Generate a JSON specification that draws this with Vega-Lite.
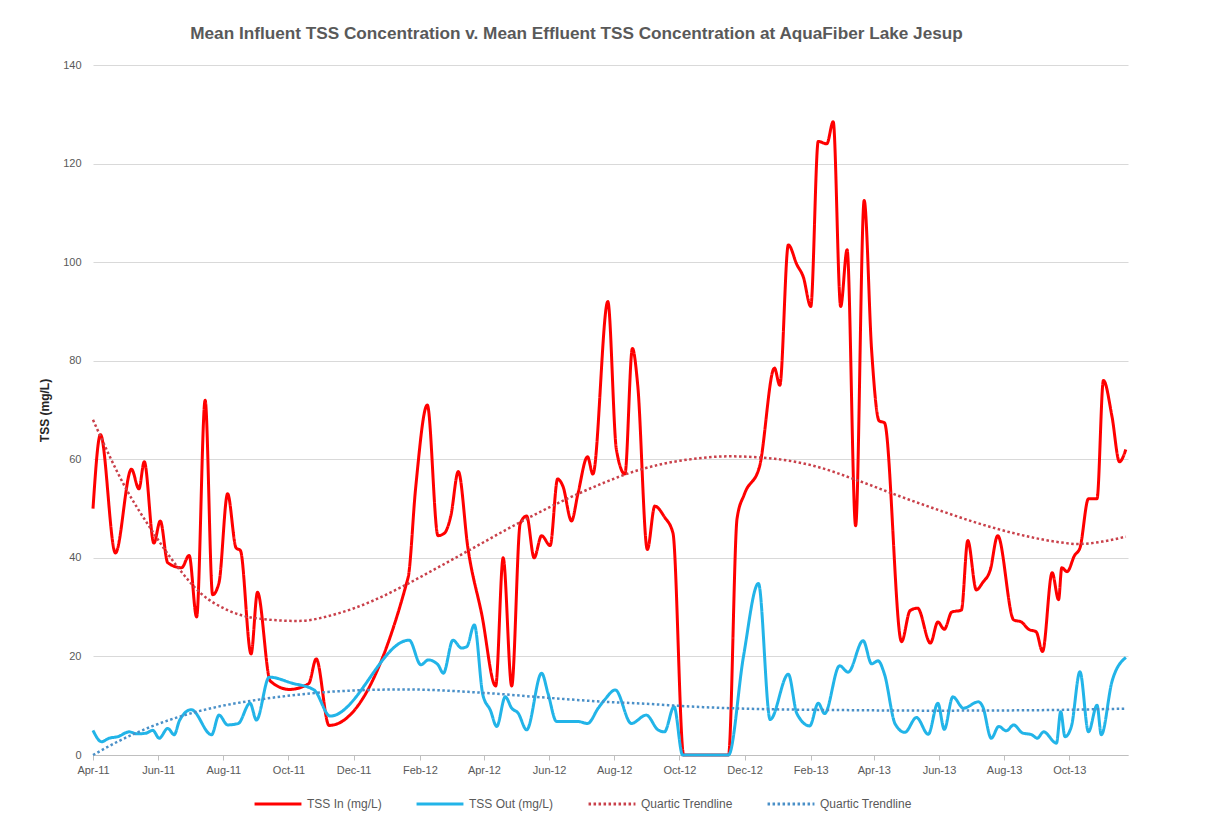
{
  "$schema": "https://vega.github.io/schema/vega-lite/v6.json",
  "width": 1035,
  "height": 690,
  "autosize": {"type": "none"},
  "padding": {"left": 93, "top": 65, "right": 80, "bottom": 68},
  "background": "white",
  "config": {"view": {"stroke": null}, "font": "Liberation Sans"},
  "title": {"text": "Mean Influent TSS Concentration v. Mean Effluent TSS Concentration at AquaFiber Lake Jesup", "fontSize": 17.2, "font": "Liberation Sans", "fontWeight": "bold", "color": "#595959", "anchor": "middle", "offset": 17, "dx": -34},
  "data": {
    "format": {"parse": {"d": "date:'%Y-%m-%d'"}},
    "values": [
      {"d": "2011-04-01", "v": 50, "s": "TSS In (mg/L)"},
      {"d": "2011-04-08", "v": 65, "s": "TSS In (mg/L)"},
      {"d": "2011-04-22", "v": 41, "s": "TSS In (mg/L)"},
      {"d": "2011-05-07", "v": 58, "s": "TSS In (mg/L)"},
      {"d": "2011-05-14", "v": 54, "s": "TSS In (mg/L)"},
      {"d": "2011-05-19", "v": 59.5, "s": "TSS In (mg/L)"},
      {"d": "2011-05-28", "v": 43, "s": "TSS In (mg/L)"},
      {"d": "2011-06-03", "v": 47.5, "s": "TSS In (mg/L)"},
      {"d": "2011-06-10", "v": 39, "s": "TSS In (mg/L)"},
      {"d": "2011-06-23", "v": 38, "s": "TSS In (mg/L)"},
      {"d": "2011-06-30", "v": 40.5, "s": "TSS In (mg/L)"},
      {"d": "2011-07-07", "v": 28, "s": "TSS In (mg/L)"},
      {"d": "2011-07-15", "v": 72, "s": "TSS In (mg/L)"},
      {"d": "2011-07-22", "v": 32.5, "s": "TSS In (mg/L)"},
      {"d": "2011-07-28", "v": 35, "s": "TSS In (mg/L)"},
      {"d": "2011-08-05", "v": 53, "s": "TSS In (mg/L)"},
      {"d": "2011-08-13", "v": 42, "s": "TSS In (mg/L)"},
      {"d": "2011-08-17", "v": 41.5, "s": "TSS In (mg/L)"},
      {"d": "2011-08-27", "v": 20.5, "s": "TSS In (mg/L)"},
      {"d": "2011-09-02", "v": 33, "s": "TSS In (mg/L)"},
      {"d": "2011-09-14", "v": 15, "s": "TSS In (mg/L)"},
      {"d": "2011-10-02", "v": 13.3, "s": "TSS In (mg/L)"},
      {"d": "2011-10-20", "v": 14.5, "s": "TSS In (mg/L)"},
      {"d": "2011-10-27", "v": 19.5, "s": "TSS In (mg/L)"},
      {"d": "2011-11-08", "v": 6, "s": "TSS In (mg/L)"},
      {"d": "2012-01-21", "v": 36, "s": "TSS In (mg/L)"},
      {"d": "2012-01-28", "v": 54, "s": "TSS In (mg/L)"},
      {"d": "2012-02-08", "v": 71, "s": "TSS In (mg/L)"},
      {"d": "2012-02-18", "v": 44.5, "s": "TSS In (mg/L)"},
      {"d": "2012-02-24", "v": 45, "s": "TSS In (mg/L)"},
      {"d": "2012-03-01", "v": 48.5, "s": "TSS In (mg/L)"},
      {"d": "2012-03-08", "v": 57.5, "s": "TSS In (mg/L)"},
      {"d": "2012-03-17", "v": 42, "s": "TSS In (mg/L)"},
      {"d": "2012-03-30", "v": 28.5, "s": "TSS In (mg/L)"},
      {"d": "2012-04-12", "v": 14, "s": "TSS In (mg/L)"},
      {"d": "2012-04-19", "v": 40, "s": "TSS In (mg/L)"},
      {"d": "2012-04-27", "v": 14, "s": "TSS In (mg/L)"},
      {"d": "2012-05-05", "v": 47, "s": "TSS In (mg/L)"},
      {"d": "2012-05-11", "v": 48.5, "s": "TSS In (mg/L)"},
      {"d": "2012-05-18", "v": 40, "s": "TSS In (mg/L)"},
      {"d": "2012-05-25", "v": 44.5, "s": "TSS In (mg/L)"},
      {"d": "2012-06-02", "v": 42.5, "s": "TSS In (mg/L)"},
      {"d": "2012-06-09", "v": 56, "s": "TSS In (mg/L)"},
      {"d": "2012-06-14", "v": 54.5, "s": "TSS In (mg/L)"},
      {"d": "2012-06-22", "v": 47.5, "s": "TSS In (mg/L)"},
      {"d": "2012-06-28", "v": 53, "s": "TSS In (mg/L)"},
      {"d": "2012-07-07", "v": 60.5, "s": "TSS In (mg/L)"},
      {"d": "2012-07-12", "v": 57, "s": "TSS In (mg/L)"},
      {"d": "2012-07-26", "v": 92, "s": "TSS In (mg/L)"},
      {"d": "2012-08-03", "v": 62, "s": "TSS In (mg/L)"},
      {"d": "2012-08-11", "v": 57, "s": "TSS In (mg/L)"},
      {"d": "2012-08-18", "v": 82.5, "s": "TSS In (mg/L)"},
      {"d": "2012-08-23", "v": 75, "s": "TSS In (mg/L)"},
      {"d": "2012-09-01", "v": 41.7, "s": "TSS In (mg/L)"},
      {"d": "2012-09-08", "v": 50.5, "s": "TSS In (mg/L)"},
      {"d": "2012-09-17", "v": 48.3, "s": "TSS In (mg/L)"},
      {"d": "2012-09-25", "v": 45, "s": "TSS In (mg/L)"},
      {"d": "2012-10-05", "v": 0, "s": "TSS In (mg/L)"},
      {"d": "2012-10-26", "v": 0, "s": "TSS In (mg/L)"},
      {"d": "2012-11-16", "v": 0, "s": "TSS In (mg/L)"},
      {"d": "2012-11-24", "v": 48, "s": "TSS In (mg/L)"},
      {"d": "2012-12-01", "v": 53, "s": "TSS In (mg/L)"},
      {"d": "2012-12-15", "v": 58.5, "s": "TSS In (mg/L)"},
      {"d": "2012-12-29", "v": 78.5, "s": "TSS In (mg/L)"},
      {"d": "2013-01-03", "v": 75, "s": "TSS In (mg/L)"},
      {"d": "2013-01-11", "v": 103.5, "s": "TSS In (mg/L)"},
      {"d": "2013-01-19", "v": 99.5, "s": "TSS In (mg/L)"},
      {"d": "2013-01-25", "v": 97, "s": "TSS In (mg/L)"},
      {"d": "2013-02-01", "v": 91, "s": "TSS In (mg/L)"},
      {"d": "2013-02-08", "v": 124.5, "s": "TSS In (mg/L)"},
      {"d": "2013-02-16", "v": 124, "s": "TSS In (mg/L)"},
      {"d": "2013-02-22", "v": 128.5, "s": "TSS In (mg/L)"},
      {"d": "2013-03-01", "v": 91, "s": "TSS In (mg/L)"},
      {"d": "2013-03-07", "v": 102.5, "s": "TSS In (mg/L)"},
      {"d": "2013-03-15", "v": 46.5, "s": "TSS In (mg/L)"},
      {"d": "2013-03-23", "v": 112.5, "s": "TSS In (mg/L)"},
      {"d": "2013-03-30", "v": 82, "s": "TSS In (mg/L)"},
      {"d": "2013-04-06", "v": 67.8, "s": "TSS In (mg/L)"},
      {"d": "2013-04-11", "v": 67.4, "s": "TSS In (mg/L)"},
      {"d": "2013-04-27", "v": 23, "s": "TSS In (mg/L)"},
      {"d": "2013-05-05", "v": 29.3, "s": "TSS In (mg/L)"},
      {"d": "2013-05-12", "v": 29.8, "s": "TSS In (mg/L)"},
      {"d": "2013-05-24", "v": 22.7, "s": "TSS In (mg/L)"},
      {"d": "2013-05-31", "v": 27, "s": "TSS In (mg/L)"},
      {"d": "2013-06-06", "v": 25.5, "s": "TSS In (mg/L)"},
      {"d": "2013-06-13", "v": 29, "s": "TSS In (mg/L)"},
      {"d": "2013-06-22", "v": 29.4, "s": "TSS In (mg/L)"},
      {"d": "2013-06-28", "v": 43.5, "s": "TSS In (mg/L)"},
      {"d": "2013-07-06", "v": 33.5, "s": "TSS In (mg/L)"},
      {"d": "2013-07-12", "v": 35, "s": "TSS In (mg/L)"},
      {"d": "2013-07-19", "v": 37.5, "s": "TSS In (mg/L)"},
      {"d": "2013-07-26", "v": 44.5, "s": "TSS In (mg/L)"},
      {"d": "2013-08-10", "v": 27.4, "s": "TSS In (mg/L)"},
      {"d": "2013-08-17", "v": 27, "s": "TSS In (mg/L)"},
      {"d": "2013-08-24", "v": 25.5, "s": "TSS In (mg/L)"},
      {"d": "2013-08-31", "v": 25, "s": "TSS In (mg/L)"},
      {"d": "2013-09-06", "v": 21, "s": "TSS In (mg/L)"},
      {"d": "2013-09-15", "v": 37, "s": "TSS In (mg/L)"},
      {"d": "2013-09-21", "v": 31.5, "s": "TSS In (mg/L)"},
      {"d": "2013-09-24", "v": 38, "s": "TSS In (mg/L)"},
      {"d": "2013-09-29", "v": 37.2, "s": "TSS In (mg/L)"},
      {"d": "2013-10-06", "v": 40.5, "s": "TSS In (mg/L)"},
      {"d": "2013-10-11", "v": 42, "s": "TSS In (mg/L)"},
      {"d": "2013-10-19", "v": 52, "s": "TSS In (mg/L)"},
      {"d": "2013-10-27", "v": 52, "s": "TSS In (mg/L)"},
      {"d": "2013-11-02", "v": 76, "s": "TSS In (mg/L)"},
      {"d": "2013-11-10", "v": 68.7, "s": "TSS In (mg/L)"},
      {"d": "2013-11-17", "v": 59.5, "s": "TSS In (mg/L)"},
      {"d": "2013-11-23", "v": 62, "s": "TSS In (mg/L)"},

      {"d": "2011-04-01", "v": 5, "s": "TSS Out (mg/L)"},
      {"d": "2011-04-09", "v": 2.7, "s": "TSS Out (mg/L)"},
      {"d": "2011-04-16", "v": 3.4, "s": "TSS Out (mg/L)"},
      {"d": "2011-04-24", "v": 3.7, "s": "TSS Out (mg/L)"},
      {"d": "2011-05-05", "v": 4.7, "s": "TSS Out (mg/L)"},
      {"d": "2011-05-12", "v": 4.3, "s": "TSS Out (mg/L)"},
      {"d": "2011-05-20", "v": 4.4, "s": "TSS Out (mg/L)"},
      {"d": "2011-05-27", "v": 5, "s": "TSS Out (mg/L)"},
      {"d": "2011-06-02", "v": 3.4, "s": "TSS Out (mg/L)"},
      {"d": "2011-06-10", "v": 5.4, "s": "TSS Out (mg/L)"},
      {"d": "2011-06-16", "v": 4.1, "s": "TSS Out (mg/L)"},
      {"d": "2011-06-21", "v": 7, "s": "TSS Out (mg/L)"},
      {"d": "2011-07-02", "v": 9.2, "s": "TSS Out (mg/L)"},
      {"d": "2011-07-21", "v": 4.1, "s": "TSS Out (mg/L)"},
      {"d": "2011-07-28", "v": 8.1, "s": "TSS Out (mg/L)"},
      {"d": "2011-08-05", "v": 6.1, "s": "TSS Out (mg/L)"},
      {"d": "2011-08-15", "v": 6.4, "s": "TSS Out (mg/L)"},
      {"d": "2011-08-26", "v": 10.5, "s": "TSS Out (mg/L)"},
      {"d": "2011-09-01", "v": 7.1, "s": "TSS Out (mg/L)"},
      {"d": "2011-09-13", "v": 15.8, "s": "TSS Out (mg/L)"},
      {"d": "2011-10-04", "v": 14.6, "s": "TSS Out (mg/L)"},
      {"d": "2011-10-25", "v": 13.2, "s": "TSS Out (mg/L)"},
      {"d": "2011-11-09", "v": 7.9, "s": "TSS Out (mg/L)"},
      {"d": "2012-01-22", "v": 23.3, "s": "TSS Out (mg/L)"},
      {"d": "2012-02-02", "v": 18.3, "s": "TSS Out (mg/L)"},
      {"d": "2012-02-09", "v": 19.3, "s": "TSS Out (mg/L)"},
      {"d": "2012-02-18", "v": 18.3, "s": "TSS Out (mg/L)"},
      {"d": "2012-02-23", "v": 16.6, "s": "TSS Out (mg/L)"},
      {"d": "2012-03-03", "v": 23.3, "s": "TSS Out (mg/L)"},
      {"d": "2012-03-11", "v": 21.7, "s": "TSS Out (mg/L)"},
      {"d": "2012-03-16", "v": 22, "s": "TSS Out (mg/L)"},
      {"d": "2012-03-23", "v": 26.4, "s": "TSS Out (mg/L)"},
      {"d": "2012-03-31", "v": 12.2, "s": "TSS Out (mg/L)"},
      {"d": "2012-04-07", "v": 9.1, "s": "TSS Out (mg/L)"},
      {"d": "2012-04-13", "v": 5.8, "s": "TSS Out (mg/L)"},
      {"d": "2012-04-21", "v": 11.8, "s": "TSS Out (mg/L)"},
      {"d": "2012-04-27", "v": 9.5, "s": "TSS Out (mg/L)"},
      {"d": "2012-05-03", "v": 8.5, "s": "TSS Out (mg/L)"},
      {"d": "2012-05-11", "v": 5.1, "s": "TSS Out (mg/L)"},
      {"d": "2012-05-25", "v": 16.6, "s": "TSS Out (mg/L)"},
      {"d": "2012-05-31", "v": 12.5, "s": "TSS Out (mg/L)"},
      {"d": "2012-06-08", "v": 6.8, "s": "TSS Out (mg/L)"},
      {"d": "2012-06-19", "v": 6.8, "s": "TSS Out (mg/L)"},
      {"d": "2012-06-28", "v": 6.8, "s": "TSS Out (mg/L)"},
      {"d": "2012-07-07", "v": 6.4, "s": "TSS Out (mg/L)"},
      {"d": "2012-07-17", "v": 9.5, "s": "TSS Out (mg/L)"},
      {"d": "2012-07-23", "v": 11.2, "s": "TSS Out (mg/L)"},
      {"d": "2012-08-02", "v": 13.2, "s": "TSS Out (mg/L)"},
      {"d": "2012-08-17", "v": 6.4, "s": "TSS Out (mg/L)"},
      {"d": "2012-08-31", "v": 8.1, "s": "TSS Out (mg/L)"},
      {"d": "2012-09-11", "v": 5.1, "s": "TSS Out (mg/L)"},
      {"d": "2012-09-17", "v": 4.7, "s": "TSS Out (mg/L)"},
      {"d": "2012-09-26", "v": 9.8, "s": "TSS Out (mg/L)"},
      {"d": "2012-10-04", "v": 0, "s": "TSS Out (mg/L)"},
      {"d": "2012-10-26", "v": 0, "s": "TSS Out (mg/L)"},
      {"d": "2012-11-16", "v": 0, "s": "TSS Out (mg/L)"},
      {"d": "2012-11-30", "v": 20, "s": "TSS Out (mg/L)"},
      {"d": "2012-12-14", "v": 34.8, "s": "TSS Out (mg/L)"},
      {"d": "2012-12-25", "v": 7.2, "s": "TSS Out (mg/L)"},
      {"d": "2013-01-11", "v": 16.4, "s": "TSS Out (mg/L)"},
      {"d": "2013-01-19", "v": 8.4, "s": "TSS Out (mg/L)"},
      {"d": "2013-01-31", "v": 5.9, "s": "TSS Out (mg/L)"},
      {"d": "2013-02-08", "v": 10.5, "s": "TSS Out (mg/L)"},
      {"d": "2013-02-14", "v": 8.4, "s": "TSS Out (mg/L)"},
      {"d": "2013-02-28", "v": 18.1, "s": "TSS Out (mg/L)"},
      {"d": "2013-03-08", "v": 16.8, "s": "TSS Out (mg/L)"},
      {"d": "2013-03-22", "v": 23.2, "s": "TSS Out (mg/L)"},
      {"d": "2013-03-30", "v": 18.5, "s": "TSS Out (mg/L)"},
      {"d": "2013-04-05", "v": 19.1, "s": "TSS Out (mg/L)"},
      {"d": "2013-04-11", "v": 16.4, "s": "TSS Out (mg/L)"},
      {"d": "2013-04-21", "v": 6.3, "s": "TSS Out (mg/L)"},
      {"d": "2013-04-30", "v": 4.6, "s": "TSS Out (mg/L)"},
      {"d": "2013-05-11", "v": 7.6, "s": "TSS Out (mg/L)"},
      {"d": "2013-05-22", "v": 4.2, "s": "TSS Out (mg/L)"},
      {"d": "2013-05-31", "v": 10.5, "s": "TSS Out (mg/L)"},
      {"d": "2013-06-06", "v": 5.2, "s": "TSS Out (mg/L)"},
      {"d": "2013-06-14", "v": 11.8, "s": "TSS Out (mg/L)"},
      {"d": "2013-06-24", "v": 9.5, "s": "TSS Out (mg/L)"},
      {"d": "2013-07-08", "v": 10.8, "s": "TSS Out (mg/L)"},
      {"d": "2013-07-12", "v": 9.8, "s": "TSS Out (mg/L)"},
      {"d": "2013-07-20", "v": 3.4, "s": "TSS Out (mg/L)"},
      {"d": "2013-07-27", "v": 5.8, "s": "TSS Out (mg/L)"},
      {"d": "2013-08-03", "v": 4.9, "s": "TSS Out (mg/L)"},
      {"d": "2013-08-10", "v": 6.1, "s": "TSS Out (mg/L)"},
      {"d": "2013-08-18", "v": 4.5, "s": "TSS Out (mg/L)"},
      {"d": "2013-08-27", "v": 4.1, "s": "TSS Out (mg/L)"},
      {"d": "2013-09-01", "v": 3.4, "s": "TSS Out (mg/L)"},
      {"d": "2013-09-07", "v": 4.7, "s": "TSS Out (mg/L)"},
      {"d": "2013-09-19", "v": 2.4, "s": "TSS Out (mg/L)"},
      {"d": "2013-09-23", "v": 8.8, "s": "TSS Out (mg/L)"},
      {"d": "2013-09-27", "v": 3.7, "s": "TSS Out (mg/L)"},
      {"d": "2013-10-03", "v": 5.8, "s": "TSS Out (mg/L)"},
      {"d": "2013-10-11", "v": 16.9, "s": "TSS Out (mg/L)"},
      {"d": "2013-10-19", "v": 4.7, "s": "TSS Out (mg/L)"},
      {"d": "2013-10-27", "v": 10.1, "s": "TSS Out (mg/L)"},
      {"d": "2013-10-31", "v": 4.1, "s": "TSS Out (mg/L)"},
      {"d": "2013-11-10", "v": 14.9, "s": "TSS Out (mg/L)"},
      {"d": "2013-11-23", "v": 19.8, "s": "TSS Out (mg/L)"},

      {"d": "2011-04-01", "v": 68, "s": "Quartic Trendline (In)"},
      {"d": "2011-05-01", "v": 54.4, "s": "Quartic Trendline (In)"},
      {"d": "2011-05-26", "v": 45.6, "s": "Quartic Trendline (In)"},
      {"d": "2011-06-19", "v": 38.2, "s": "Quartic Trendline (In)"},
      {"d": "2011-07-11", "v": 32.8, "s": "Quartic Trendline (In)"},
      {"d": "2011-08-05", "v": 29.4, "s": "Quartic Trendline (In)"},
      {"d": "2011-08-30", "v": 27.8, "s": "Quartic Trendline (In)"},
      {"d": "2011-10-10", "v": 27.2, "s": "Quartic Trendline (In)"},
      {"d": "2011-11-16", "v": 28.7, "s": "Quartic Trendline (In)"},
      {"d": "2011-12-18", "v": 31.2, "s": "Quartic Trendline (In)"},
      {"d": "2012-01-15", "v": 34.1, "s": "Quartic Trendline (In)"},
      {"d": "2012-02-15", "v": 37.7, "s": "Quartic Trendline (In)"},
      {"d": "2012-03-17", "v": 41.4, "s": "Quartic Trendline (In)"},
      {"d": "2012-05-09", "v": 47.7, "s": "Quartic Trendline (In)"},
      {"d": "2012-06-19", "v": 52.1, "s": "Quartic Trendline (In)"},
      {"d": "2012-07-23", "v": 55.3, "s": "Quartic Trendline (In)"},
      {"d": "2012-08-11", "v": 56.9, "s": "Quartic Trendline (In)"},
      {"d": "2012-09-14", "v": 59.0, "s": "Quartic Trendline (In)"},
      {"d": "2012-10-15", "v": 60.1, "s": "Quartic Trendline (In)"},
      {"d": "2012-11-16", "v": 60.6, "s": "Quartic Trendline (In)"},
      {"d": "2012-12-29", "v": 60.1, "s": "Quartic Trendline (In)"},
      {"d": "2013-02-05", "v": 58.6, "s": "Quartic Trendline (In)"},
      {"d": "2013-03-17", "v": 55.7, "s": "Quartic Trendline (In)"},
      {"d": "2013-04-24", "v": 52.6, "s": "Quartic Trendline (In)"},
      {"d": "2013-06-06", "v": 49.3, "s": "Quartic Trendline (In)"},
      {"d": "2013-07-05", "v": 47.2, "s": "Quartic Trendline (In)"},
      {"d": "2013-08-14", "v": 44.8, "s": "Quartic Trendline (In)"},
      {"d": "2013-09-24", "v": 43.1, "s": "Quartic Trendline (In)"},
      {"d": "2013-10-09", "v": 42.8, "s": "Quartic Trendline (In)"},
      {"d": "2013-11-01", "v": 43.3, "s": "Quartic Trendline (In)"},
      {"d": "2013-11-23", "v": 44.3, "s": "Quartic Trendline (In)"},

      {"d": "2011-04-01", "v": 0, "s": "Quartic Trendline (Out)"},
      {"d": "2011-04-24", "v": 2.7, "s": "Quartic Trendline (Out)"},
      {"d": "2011-05-26", "v": 5.8, "s": "Quartic Trendline (Out)"},
      {"d": "2011-06-26", "v": 8.1, "s": "Quartic Trendline (Out)"},
      {"d": "2011-07-27", "v": 9.8, "s": "Quartic Trendline (Out)"},
      {"d": "2011-08-27", "v": 11.0, "s": "Quartic Trendline (Out)"},
      {"d": "2011-09-30", "v": 12.0, "s": "Quartic Trendline (Out)"},
      {"d": "2011-11-01", "v": 12.7, "s": "Quartic Trendline (Out)"},
      {"d": "2011-12-02", "v": 13.1, "s": "Quartic Trendline (Out)"},
      {"d": "2012-01-18", "v": 13.3, "s": "Quartic Trendline (Out)"},
      {"d": "2012-04-08", "v": 12.5, "s": "Quartic Trendline (Out)"},
      {"d": "2012-05-25", "v": 11.7, "s": "Quartic Trendline (Out)"},
      {"d": "2012-07-23", "v": 10.8, "s": "Quartic Trendline (Out)"},
      {"d": "2012-08-30", "v": 10.4, "s": "Quartic Trendline (Out)"},
      {"d": "2012-10-15", "v": 9.8, "s": "Quartic Trendline (Out)"},
      {"d": "2012-12-01", "v": 9.4, "s": "Quartic Trendline (Out)"},
      {"d": "2013-03-10", "v": 9.1, "s": "Quartic Trendline (Out)"},
      {"d": "2013-05-28", "v": 9.0, "s": "Quartic Trendline (Out)"},
      {"d": "2013-09-03", "v": 9.1, "s": "Quartic Trendline (Out)"},
      {"d": "2013-11-23", "v": 9.4, "s": "Quartic Trendline (Out)"}
    ]
  },
  "encoding": {
    "x": {
      "field": "d", "type": "temporal",
      "scale": {"domain": [{"year": 2011, "month": 4, "date": 1}, {"year": 2013, "month": 11, "date": 25}]},
      "axis": {
        "title": null, "grid": false, "format": "%b-%y",
        "values": [
          {"year": 2011, "month": 4, "date": 1}, {"year": 2011, "month": 6, "date": 1}, {"year": 2011, "month": 8, "date": 1},
          {"year": 2011, "month": 10, "date": 1}, {"year": 2011, "month": 12, "date": 1}, {"year": 2012, "month": 2, "date": 1},
          {"year": 2012, "month": 4, "date": 1}, {"year": 2012, "month": 6, "date": 1}, {"year": 2012, "month": 8, "date": 1},
          {"year": 2012, "month": 10, "date": 1}, {"year": 2012, "month": 12, "date": 1}, {"year": 2013, "month": 2, "date": 1},
          {"year": 2013, "month": 4, "date": 1}, {"year": 2013, "month": 6, "date": 1}, {"year": 2013, "month": 8, "date": 1},
          {"year": 2013, "month": 10, "date": 1}
        ],
        "domainColor": "#BFBFBF", "tickColor": "#BFBFBF", "tickSize": 5,
        "labelFontSize": 11, "labelColor": "#595959", "labelPadding": 4,
        "labelOverlap": false, "labelFlush": false
      }
    },
    "y": {
      "field": "v", "type": "quantitative",
      "scale": {"domain": [0, 140], "nice": false},
      "axis": {
        "values": [0, 20, 40, 60, 80, 100, 120, 140],
        "title": "TSS (mg/L)", "titleFontSize": 12, "titleFontWeight": "bold", "titleColor": "#262626", "titlePadding": 11,
        "grid": true, "gridColor": "#D9D9D9", "domain": false, "ticks": false,
        "labelFontSize": 11, "labelColor": "#595959", "labelPadding": 12
      }
    },
    "color": {
      "field": "s", "type": "nominal",
      "scale": {"domain": ["TSS In (mg/L)", "TSS Out (mg/L)", "Quartic Trendline (In)", "Quartic Trendline (Out)"], "range": ["#FF0000", "#22B4E8", "#C9404A", "#4A90C8"]},
      "legend": {"title": null, "orient": "none", "direction": "horizontal", "legendX": 160, "legendY": 714, "symbolType": "stroke", "symbolSize": 2200, "symbolStrokeWidth": 3, "labelFontSize": 12, "labelColor": "#595959", "labelOffset": 4, "columnPadding": 28, "labelExpr": "(datum.label == 'Quartic Trendline (In)' || datum.label == 'Quartic Trendline (Out)') ? 'Quartic Trendline' : datum.label"}
    },
    "strokeDash": {
      "field": "s", "type": "nominal",
      "scale": {"domain": ["TSS In (mg/L)", "TSS Out (mg/L)", "Quartic Trendline (In)", "Quartic Trendline (Out)"], "range": [[1, 0], [1, 0], [2.5, 2.5], [2.5, 2.5]]},
      "legend": {"title": null, "orient": "none", "direction": "horizontal", "legendX": 160, "legendY": 714, "symbolType": "stroke", "symbolSize": 2200, "symbolStrokeWidth": 3, "labelFontSize": 12, "labelColor": "#595959", "labelOffset": 4, "columnPadding": 28, "labelExpr": "(datum.label == 'Quartic Trendline (In)' || datum.label == 'Quartic Trendline (Out)') ? 'Quartic Trendline' : datum.label"}
    }
  },
  "layer": [
    {"transform": [{"filter": {"field": "s", "oneOf": ["TSS In (mg/L)", "TSS Out (mg/L)"]}}], "mark": {"type": "line", "interpolate": "monotone", "strokeWidth": 3}},
    {"transform": [{"filter": {"field": "s", "oneOf": ["Quartic Trendline (In)", "Quartic Trendline (Out)"]}}], "mark": {"type": "line", "interpolate": "monotone", "strokeWidth": 2.5}}
  ]
}
